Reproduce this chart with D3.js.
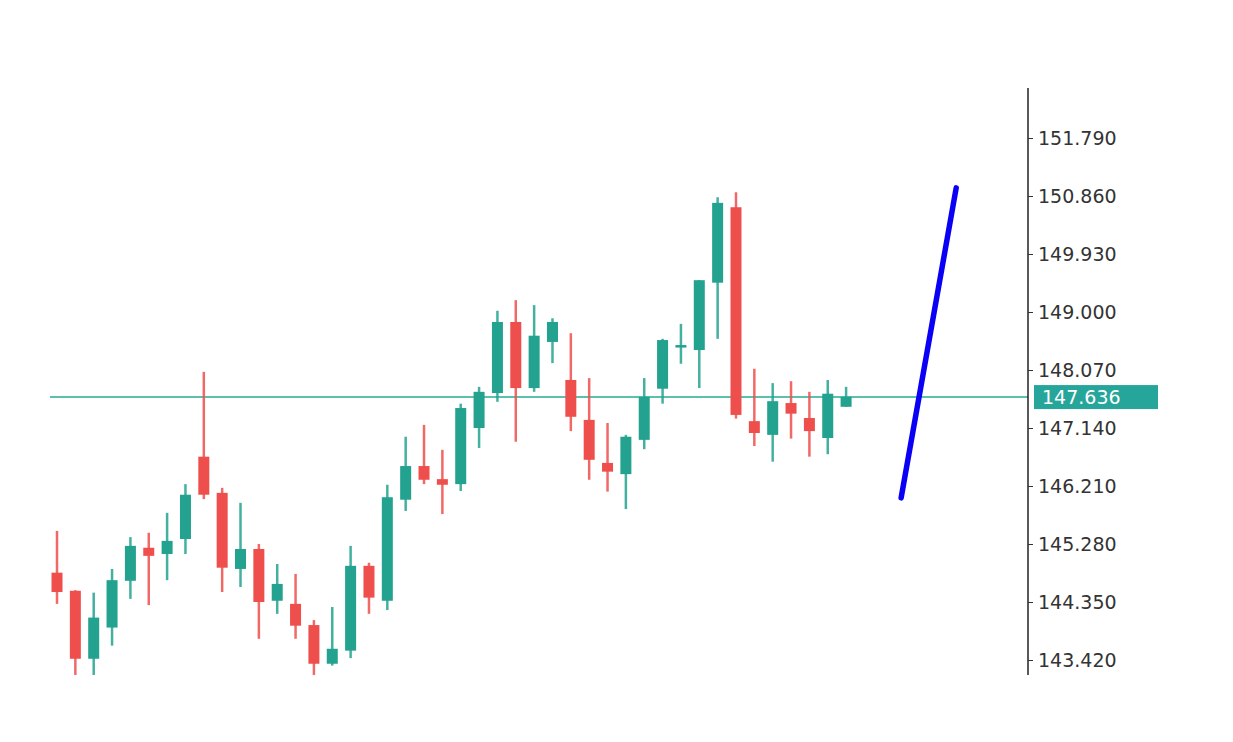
<!DOCTYPE html>
<html><head><meta charset="utf-8">
<script src="https://cdn.jsdelivr.net/npm/d3@7"></script>
<style>body{margin:0;background:#fff}</style></head>
<body><svg id="c" width="1233" height="742"></svg>
<script>
const opens  = [144.82,144.53,143.44,143.94,144.69,145.22,145.12,145.36,146.68,146.10,144.88,145.20,144.37,144.32,143.98,143.36,143.57,144.93,144.37,145.99,146.53,146.32,146.24,147.14,147.70,148.84,147.78,148.52,147.91,147.27,146.58,146.40,146.95,147.77,148.44,148.39,149.47,150.68,147.25,147.03,147.54,147.30,146.98,147.48];
const highs  = [145.49,144.54,144.50,144.88,145.39,145.46,145.78,146.24,148.04,146.18,145.94,145.28,144.96,144.80,144.06,144.27,145.25,144.98,146.23,147.00,147.19,146.79,147.53,147.80,149.02,149.19,149.11,148.90,148.66,147.94,147.22,147.03,147.94,148.57,148.81,149.51,150.84,150.92,148.09,147.86,147.89,147.72,147.91,147.80];
const lows   = [144.32,143.18,143.18,143.65,144.40,144.30,144.70,145.12,146.00,144.51,144.59,143.76,144.16,143.76,143.18,143.33,143.45,144.16,144.22,145.81,146.24,145.76,146.13,146.82,147.56,146.92,147.72,148.18,147.09,146.31,146.12,145.84,146.80,147.53,148.17,147.78,148.57,147.29,146.85,146.60,146.97,146.68,146.72,147.48];
const closes = [144.51,143.44,144.10,144.70,145.25,145.09,145.33,146.07,146.07,144.90,145.20,144.35,144.64,143.97,143.36,143.60,144.93,144.42,146.03,146.53,146.31,146.23,147.46,147.72,148.84,147.78,148.62,148.84,147.32,146.63,146.44,147.00,147.64,148.55,148.47,149.51,150.75,147.35,147.06,147.57,147.37,147.09,147.69,147.64];
const trendIdx = [46,49];
const trendVal = [146.02,150.99];
const yTicks = [143.42,144.35,145.28,146.21,147.14,148.07,149.00,149.93,150.86,151.79];
const lastPrice = 147.636;

const svg = d3.select("#c");
const x = d3.scaleLinear().domain([0,49]).range([57,956.2]);
const y = d3.scaleLinear().domain([143.42,151.79]).range([660,138]);
const green="#22a28f", red="#ef4f4c";

svg.append("defs").append("clipPath").attr("id","clip").append("rect")
  .attr("x",50).attr("y",88).attr("width",978).attr("height",587);
const g = svg.append("g").attr("clip-path","url(#clip)");

g.append("line").attr("x1",50).attr("x2",1028).attr("y1",y(lastPrice)).attr("y2",y(lastPrice))
  .attr("stroke","#5cc0b0").attr("stroke-width",2);

const data = opens.map((o,i)=>({i,o,h:highs[i],l:lows[i],c:closes[i]}));
const cg = g.selectAll("g.k").data(data).join("g");
cg.append("line").attr("x1",d=>x(d.i)).attr("x2",d=>x(d.i)).attr("y1",d=>y(d.h)).attr("y2",d=>y(d.l))
  .attr("stroke",d=>d.c>=d.o?green:red).attr("stroke-width",2.5).attr("stroke-opacity",0.85);
cg.append("rect").attr("x",d=>x(d.i)-5.5).attr("width",11)
  .attr("y",d=>y(Math.max(d.o,d.c))).attr("height",d=>Math.max(2.5,Math.abs(y(d.o)-y(d.c))))
  .attr("fill",d=>d.c>=d.o?green:red);

g.append("line").attr("x1",x(trendIdx[0])).attr("x2",x(trendIdx[1]))
  .attr("y1",y(trendVal[0])).attr("y2",y(trendVal[1]))
  .attr("stroke","#0a00f5").attr("stroke-width",5.5).attr("stroke-linecap","round");

svg.append("line").attr("x1",1028).attr("x2",1028).attr("y1",88).attr("y2",675).attr("stroke","#222").attr("stroke-width",1.5);
const ax = svg.append("g").attr("transform","translate(1028,0)")
  .call(d3.axisRight(y).tickValues(yTicks).tickFormat(d3.format(".3f")).tickSize(5).tickPadding(5));
ax.select(".domain").remove();
ax.selectAll("text").attr("font-family","DejaVu Sans, sans-serif").attr("font-size",19).attr("fill","#333");
ax.selectAll("line").attr("stroke","#333");

svg.append("rect").attr("x",1034).attr("y",y(lastPrice)-12).attr("width",124).attr("height",24).attr("fill","#26a69a");
svg.append("text").attr("x",1042).attr("y",y(lastPrice)+7).text(lastPrice.toFixed(3))
  .attr("font-family","DejaVu Sans, sans-serif").attr("font-size",19).attr("fill","#fff");
</script></body></html>
